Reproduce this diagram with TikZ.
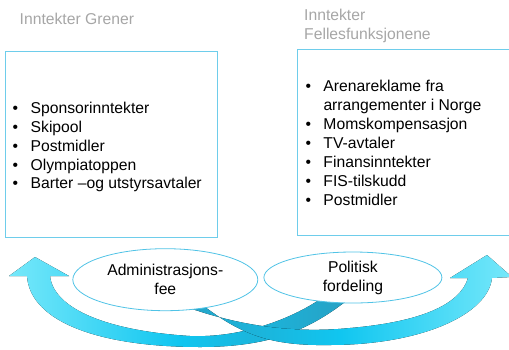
\documentclass[tikz,border=0pt]{standalone}
\usepackage{fontspec}
\setmainfont{Liberation Sans}
\usetikzlibrary{shapes,positioning}

\definecolor{boxblue}{RGB}{110,205,235}
\definecolor{ellblue}{RGB}{80,195,230}
\definecolor{titlegray}{RGB}{166,166,166}
\definecolor{headcyan}{RGB}{118,232,250}
\definecolor{bandcyan}{RGB}{16,198,240}
\definecolor{tailteal}{RGB}{40,160,195}

\newcommand{\bul}{\makebox[18pt][l]{\textbullet}}

\begin{document}
\begin{tikzpicture}[x=1pt, y=-1pt, font=\fontsize{15.7}{18.9}\selectfont]

%local definitions
\tikzstyle{Title} = [text=titlegray, anchor=base west, align=left, inner sep=0pt]
\tikzstyle{IncomeBox} = [draw=boxblue, fill=white, line width=1pt, rectangle]
\tikzstyle{List} = [anchor=base west, align=left, inner sep=0pt]
\tikzstyle{Share} = [draw=ellblue, fill=white, ellipse, inner sep=0pt, align=center, line width=0.8pt]

\clip (0,0) rectangle (509,349);

%titles (base = last line)
	\node [Title] (TitleGrener) at (19.5,24) {Inntekter Grener};
	\node [Title] (TitleFelles) at (304,39.5) {Inntekter\\Fellesfunksjonene};

%boxes
	\node [IncomeBox, minimum width=212pt, minimum height=186pt] (Grener) at (111.2,144.7) {};
	\node [IncomeBox, minimum width=230pt, minimum height=186pt] (Felles) at (412.3,142.8) {};

	\node [List] (ListGrener) at (12.5,188.9) {\bul Sponsorinntekter\\ \bul Skipool\\ \bul Postmidler\\ \bul Olympiatoppen\\ \bul Barter --og utstyrsavtaler};
	\node [List] (ListFelles) at (305.3,205.1) {\bul Arenareklame fra\\ \hspace*{18pt}arrangementer i Norge\\ \bul Momskompensasjon\\ \bul TV-avtaler\\ \bul Finansinntekter\\ \bul FIS-tilskudd\\ \bul Postmidler};

%arrows
	\fill [left color=headcyan, right color=tailteal, middle color=bandcyan]
		(50,276) .. controls (54,310) and (110,331) .. (190,336)
		.. controls (240,338) and (290,320) .. (322,298) -- (350,298)
		.. controls (310,330) and (270,347) .. (200,347)
		.. controls (100,347) and (30,322) .. (27,276)
		-- (9,276) -- (35,257) -- (69,276) -- cycle;
	\fill [left color=tailteal, right color=headcyan, middle color=bandcyan]
		(468,278) .. controls (460,305) and (420,322) .. (350,328)
		.. controls (290,334) and (230,325) .. (168,300) -- (196,300)
		.. controls (240,335) and (270,346) .. (330,345)
		.. controls (420,345) and (488,315) .. (492,278)
		-- (512,277) -- (487,255) -- (450,278) -- cycle;

%ellipses
	\node [Share, minimum width=185pt, minimum height=62pt] (AdminFee) at (165.3,279.7) {Administrasjons-\\fee};
	\node [Share, minimum width=178pt, minimum height=51pt] (Politisk) at (352.9,277.5) {Politisk\\fordeling};

\end{tikzpicture}
\end{document}
